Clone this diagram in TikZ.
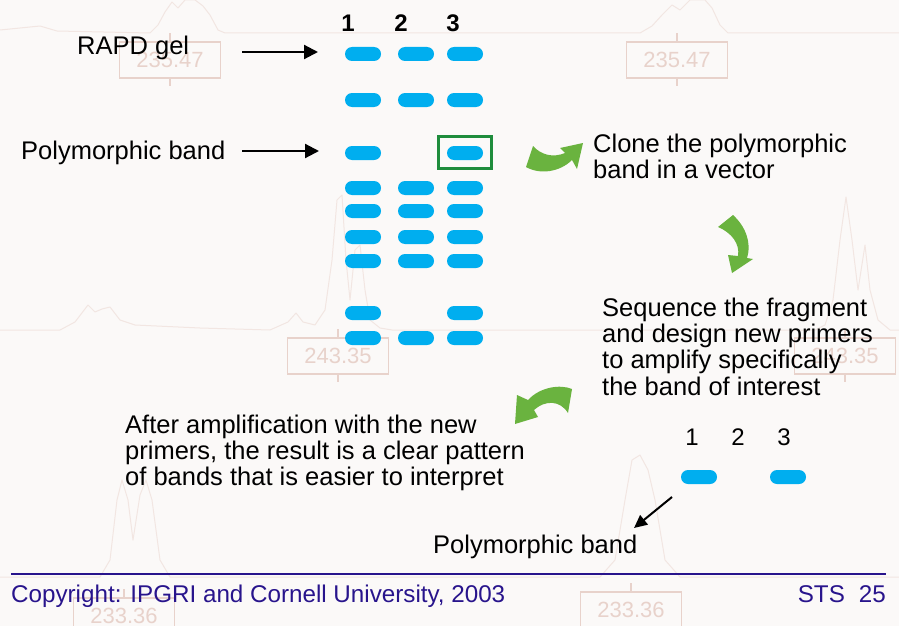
\documentclass[tikz,border=0pt]{standalone}
\usepackage{fontspec}
\setmainfont{Liberation Sans}
\usetikzlibrary{arrows.meta}
\definecolor{bgc}{RGB}{251,249,248}
\definecolor{trace}{RGB}{242,230,226}
\definecolor{lbl}{RGB}{232,210,203}
\definecolor{bandc}{RGB}{0,174,239}
\definecolor{boxg}{RGB}{30,140,60}
\definecolor{arrg}{RGB}{106,179,63}
\definecolor{footc}{RGB}{40,20,140}
\begin{document}
\begin{tikzpicture}[x=1pt,y=-1pt,
 band/.style={rectangle,rounded corners=7pt,fill=bandc,minimum width=36pt,minimum height=14pt,inner sep=0pt},
 txt/.style={font=\fontsize{25.5}{26.3}\selectfont,anchor=base west,align=left,inner sep=0pt},
 lanebf/.style={font=\fontsize{24}{24}\bfseries\selectfont,anchor=base,inner sep=0pt},
 lanesm/.style={font=\fontsize{24}{24}\selectfont,anchor=base,inner sep=0pt},
 blk/.style={line width=2.2pt,-{Triangle[length=14pt,width=14pt]}},
 garrow/.style={fill=arrg},
 tr/.style={draw=trace,line width=1pt,line join=round},
 lb/.style={draw=lbl,line width=1.1pt,text=lbl,font=\fontsize{22}{22}\selectfont,minimum width=101pt,minimum height=36pt,inner sep=0pt},
 foot/.style={font=\fontsize{24.2}{24.2}\selectfont,text=footc,inner sep=0pt}]
\useasboundingbox (0,0) rectangle (899,626);
\fill[bgc] (0,0) rectangle (899,626);
% faint background traces
\draw[tr] (0,30) -- (20,28) -- (40,26) -- (57,31) -- (150,33) -- (158,25) -- (165,12) -- (172,2) -- (178,8) -- (185,0) -- (195,0) -- (203,6) -- (210,15) -- (218,30) -- (225,33) -- (640,33) -- (652,26) -- (662,15) -- (672,5) -- (680,10) -- (690,0) -- (705,0) -- (712,8) -- (720,25) -- (728,33) -- (899,33);
\draw[tr] (0,330) -- (60,330) -- (75,322) -- (88,305) -- (95,312) -- (102,309) -- (110,307) -- (120,320) -- (135,325) -- (200,328) -- (270,330) -- (288,322) -- (296,313) -- (303,322) -- (315,325) -- (325,310) -- (332,260) -- (337,200) -- (342,195) -- (346,260) -- (350,300) -- (355,250) -- (360,245) -- (365,290) -- (370,320) -- (380,328) -- (392,330) -- (815,330) -- (825,325) -- (833,300) -- (840,240) -- (846,197) -- (852,240) -- (858,290) -- (865,245) -- (870,290) -- (878,320) -- (890,330) -- (899,330);
\draw[tr] (0,577) -- (100,577) -- (110,560) -- (117,500) -- (122,480) -- (128,500) -- (133,540) -- (140,495) -- (146,480) -- (152,500) -- (160,560) -- (170,577) -- (600,577) -- (615,560) -- (625,500) -- (632,460) -- (640,455) -- (648,470) -- (655,500) -- (665,560) -- (680,577) -- (899,577);
\node[lb] (l1) at (170,60) {235.47};
\node[lb] (l2) at (677,60) {235.47};
\node[lb] (l3) at (338,356) {243.35};
\node[lb] (l4) at (845,356) {243.35};
\node[lb] (l5) at (124,616) {233.36};
\node[lb] (l6) at (631,610) {233.36};
\foreach \n in {l1,l2,l3,l4,l5,l6} {\draw[draw=lbl,line width=1.1pt] (\n.north) -- ++(0,-8) (\n.south) -- ++(0,7);}
% lane numbers
\node[lanebf] (n1) at (348,32) {1};
\node[lanebf] (n2) at (401,32) {2};
\node[lanebf] (n3) at (453,32) {3};
% gel bands
\node[band] (b11) at (363,54) {};
\node[band] (b21) at (416,54) {};
\node[band] (b31) at (465,54) {};
\node[band] (b12) at (363,100) {};
\node[band] (b22) at (416,100) {};
\node[band] (b32) at (465,100) {};
\node[band] (b13) at (363,153) {};
\node[band] (b33) at (465,153) {};
\node[band] (b14) at (363,188) {};
\node[band] (b24) at (416,188) {};
\node[band] (b34) at (465,188) {};
\node[band] (b15) at (363,211) {};
\node[band] (b25) at (416,211) {};
\node[band] (b35) at (465,211) {};
\node[band] (b16) at (363,237) {};
\node[band] (b26) at (416,237) {};
\node[band] (b36) at (465,237) {};
\node[band] (b17) at (363,261) {};
\node[band] (b27) at (416,261) {};
\node[band] (b37) at (465,261) {};
\node[band] (b18) at (363,313) {};
\node[band] (b38) at (465,313) {};
\node[band] (b19) at (363,338) {};
\node[band] (b29) at (416,338) {};
\node[band] (b39) at (465,338) {};
\node[draw=boxg,line width=3pt,minimum width=53pt,minimum height=32pt,inner sep=0pt] (gbox) at (465,152.5) {};
% left labels and arrows
\node[txt] (rapd) at (77,55) {RAPD gel};
\node[txt] (poly) at (21,159) {Polymorphic band};
\coordinate (ra1) at (242,52);
\coordinate (ra2) at (318,52);
\coordinate (pa1) at (242,151);
\coordinate (pa2) at (319,151);
\draw[blk] (ra1) -- (ra2);
\draw[blk] (pa1) -- (pa2);
% step texts (anchor = baseline of last line)
\node[txt,font=\fontsize{25.5}{25.2}\selectfont] (clone) at (593,178) {Clone the polymorphic\\band in a vector};
\node[txt] (seq) at (602,395) {Sequence the fragment\\and design new primers\\to amplify specifically\\the band of interest};
\node[txt] (after) at (125,485.7) {After amplification with the new\\primers, the result is a clear pattern\\of bands that is easier to interpret};
% green curved arrows
\fill[garrow] (533,146) .. controls (541,155) and (553,158) .. (565,153) -- (560,148) -- (583,143) -- (577,169) -- (572,160) .. controls (560,172) and (540,175) .. (526,167) -- cycle;
\fill[garrow] (718,227) -- (733,215) .. controls (745,226) and (752,242) .. (747,258) -- (753,259) -- (732,273) -- (728,255) -- (738,256) .. controls (740,244) and (732,233) .. (718,227) -- cycle;
\fill[garrow] (572,389) .. controls (560,384) and (540,387) .. (528,400) -- (517,395) -- (515,424) -- (538,417) -- (534,410) .. controls (545,400) and (560,400) .. (568,413) -- cycle;
% second gel
\node[lanesm] (m1) at (692,445) {1};
\node[lanesm] (m2) at (738,445) {2};
\node[lanesm] (m3) at (784,445) {3};
\node[band] (c1) at (699,477) {};
\node[band] (c3) at (788,477) {};
\node[txt] (poly2) at (433,553) {Polymorphic band};
\coordinate (sa1) at (672,497);
\coordinate (sa2) at (634,528);
\draw[line width=2pt,-{Triangle[length=13pt,width=12pt]}] (sa1) -- (sa2);
% footer
\coordinate (f1) at (11,574);
\coordinate (f2) at (886,574);
\draw[footc,line width=1.5pt] (f1) -- (f2);
\node[foot,anchor=base west] (copy) at (11,602) {Copyright: IPGRI and Cornell University, 2003};
\node[foot,anchor=base east] (sts) at (886,602) {STS\hspace{14pt}25};
\end{tikzpicture}
\end{document}
